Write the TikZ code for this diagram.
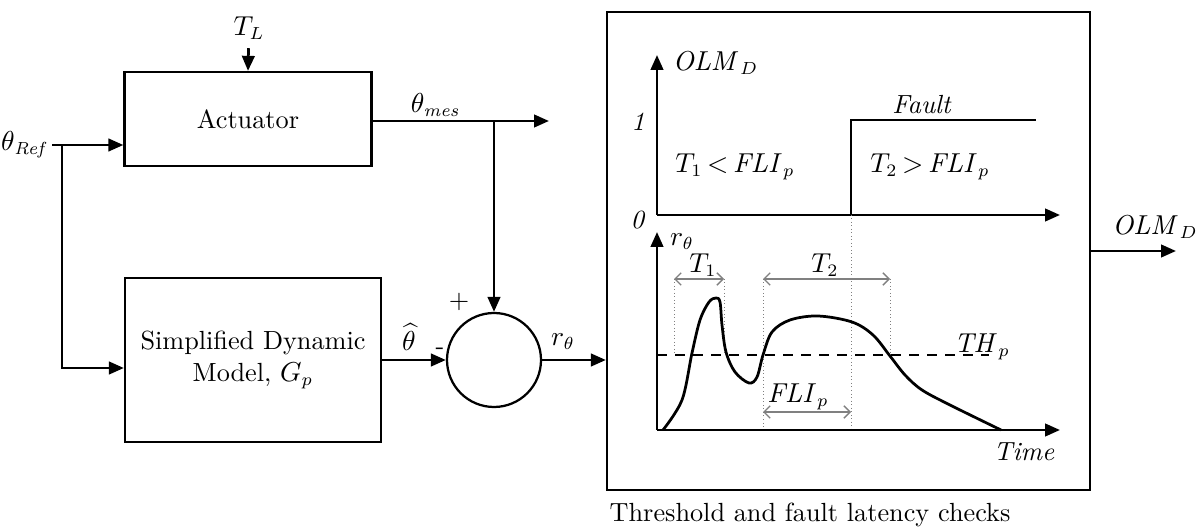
\documentclass[tikz,border=0pt]{standalone}
\usepackage{amsmath,amssymb}
\usetikzlibrary{positioning,arrows.meta,calc}

\begin{document}
\begin{tikzpicture}[
  x=0.4pt, y=-0.4pt,
  every node/.style={font=\fontsize{10.5}{12.5}\selectfont},
  block/.style={draw, line width=0.9pt, align=center, inner sep=0pt},
  arr/.style={-{Triangle[length=6pt,width=5pt]}, line width=1.1pt},
  dimarr/.style={{Straight Barb[length=2.5pt,width=5pt]}-{Straight Barb[length=2.5pt,width=5pt]}, gray, line width=0.5pt},
  guide/.style={gray, densely dotted, line width=0.4pt},
  thr/.style={dash pattern=on 4pt off 3.2pt, line width=1.1pt}
]
  \useasboundingbox (0,0) rectangle (1199,531);

  % Blocks
  \node[block, minimum width=98.8pt, minimum height=37.6pt] (act) at (248,119) {Actuator};
  \node[block, minimum width=102.4pt, minimum height=65.6pt] (model) at (253,360) {Simplified Dynamic\\Model, $G_p$};
  \node[draw, circle, line width=0.9pt, minimum size=37.6pt, inner sep=0pt] (sum) at (494,360) {};
  \node[block, minimum width=193.2pt, minimum height=191.2pt] (check) at (848.5,251) {};
  \node (cap) at (810,515) {Threshold and fault latency checks};

  % Inputs
  \node (tl) at (249,28) {$T_L$};
  \node[anchor=east, inner sep=1pt] (ref) at (52,145) {$\theta_{\mathit{Ref}}$};
  \coordinate (jn) at (62,145);
  \draw[arr] (tl) -- (act.north);
  \draw[line width=1.1pt] (ref.east) -- (jn);
  \draw[arr] (jn) -- (jn -| act.west);
  \draw[arr] (jn) |- ([yshift=-3.2pt]model.west);

  % Measured output and residual
  \coordinate (mes) at (549,121);
  \coordinate (br) at (sum.north |- mes);
  \draw[arr] (act.east |- mes) -- (mes);
  \node (mestxt) at (436,105) {$\theta_{\mathit{mes}}$};
  \draw[arr] (br) -- (sum.north);
  \draw[arr] (model.east) -- (sum.west);
  \node[inner sep=1pt] (hat) at (409,337) {$\widehat{\theta}$};
  \node[inner sep=0pt] (minus) at (440,351) {-};
  \node (plus) at (459,302) {+};
  \draw[arr] (sum.east) -- (sum.east -| check.west);
  \node (rtxt) at (563,342) {$r_\theta$};

  % Output
  \coordinate (olm) at (1176,251);
  \draw[arr] (check.east) -- (olm);
  \node (olmtxt) at (1155,227) {$\mathit{OLM}_D$};

  % Upper plot
  \draw[arr] (657,215) -- (1060,215);
  \draw[arr] (657,215) -- (657,55);
  \node[anchor=west] (olmax) at (664,63) {$\mathit{OLM}_D$};
  \node (one) at (638,122) {\textit{1}};
  \node (zero) at (638,220) {\textit{0}};
  \draw[line width=0.9pt] (851,215) -- (851,120) -- (1036,120);
  \node (fault) at (922,105) {\textit{Fault}};
  \node (cond1) at (735,167) {$T_1\,{<}\,\mathit{FLI}_p$};
  \node (cond2) at (930,167) {$T_2\,{>}\,\mathit{FLI}_p$};

  % Lower plot
  \draw[guide] (851,215) -- (851,430);
  \draw[guide] (674,279) -- (674,355);
  \draw[guide] (724,279) -- (724,355);
  \draw[guide] (763,279) -- (763,430);
  \draw[guide] (890,279) -- (890,355);
  \draw[arr] (657,430) -- (1060,430);
  \draw[arr] (657,430) -- (657,232);
  \node (rax) at (682,242) {$r_\theta$};
  \draw[thr] (657,355) -- (989,355);
  \node (thtxt) at (982,347) {$\mathit{TH}_p$};
  \draw[dimarr] (674,279) -- (724,279);
  \node (t1) at (703,265) {$T_1$};
  \draw[dimarr] (763,279) -- (890,279);
  \node (t2) at (825,265) {$T_2$};
  \draw[dimarr] (763,412) -- (851,412);
  \node (fli) at (798,397) {$\mathit{FLI}_p$};
  \node (time) at (1024,452) {\textit{Time}};
  \draw[line width=1.1pt] plot[smooth, tension=0.55] coordinates {
    (663,430) (682,400) (692,353) (700,320) (709,302) (716,298) (720,302) (722,325)
    (726,352) (735,372) (749,383) (757,377) (763,355) (772,332) (790,320) (818,316)
    (852,322) (873,335) (890,356) (905,375) (922,390) (950,405) (1001,430)};
\end{tikzpicture}
\end{document}
